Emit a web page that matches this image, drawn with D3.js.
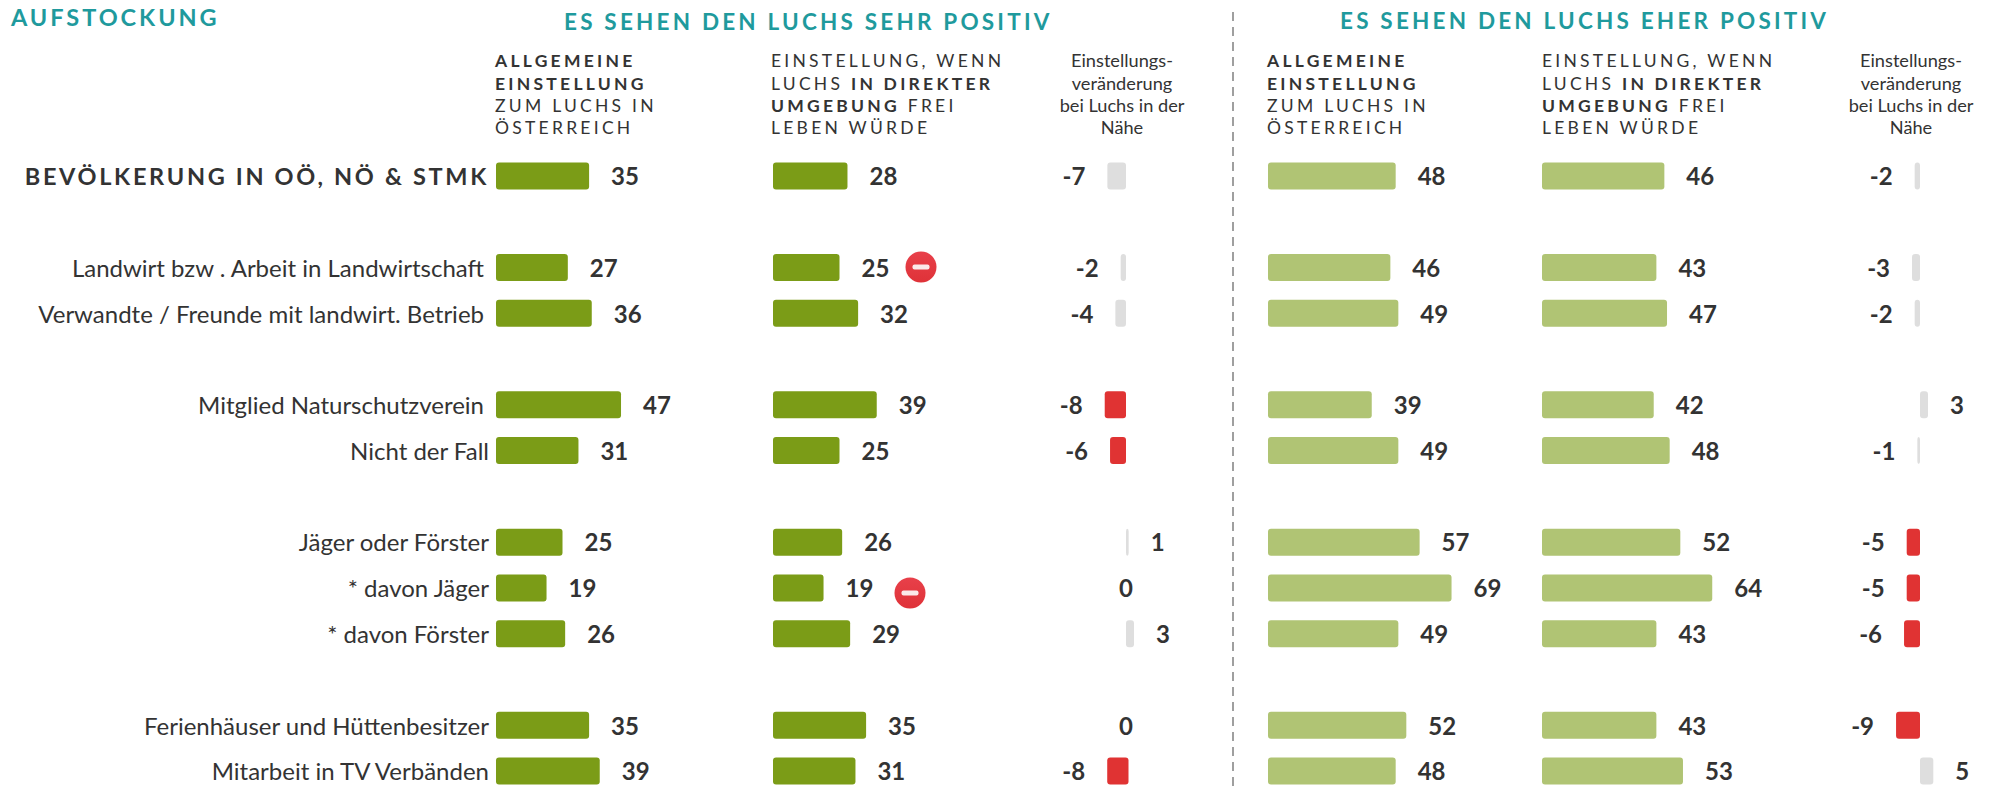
<!DOCTYPE html>
<html><head><meta charset="utf-8">
<script src="https://cdn.jsdelivr.net/npm/d3@7"></script>
<style>
html,body{margin:0;padding:0;background:#fff}
svg{display:block}
text{font-family:Lato,sans-serif;fill:#333}
</style></head><body><svg id="c" width="1995" height="786"></svg>
<script>
const categories=["BEVÖLKERUNG IN OÖ, NÖ & STMK","Landwirt bzw . Arbeit in Landwirtschaft","Verwandte / Freunde mit landwirt. Betrieb","Mitglied Naturschutzverein","Nicht der Fall","Jäger oder Förster","* davon Jäger","* davon Förster","Ferienhäuser und Hüttenbesitzer","Mitarbeit in TV Verbänden"];
const rowSlots=["BEVÖLKERUNG IN OÖ, NÖ & STMK","_a","Landwirt bzw . Arbeit in Landwirtschaft","Verwandte / Freunde mit landwirt. Betrieb","_b","Mitglied Naturschutzverein","Nicht der Fall","_c","Jäger oder Förster","* davon Jäger","* davon Förster","_d","Ferienhäuser und Hüttenbesitzer","Mitarbeit in TV Verbänden"];
const sehrAllgemein=[35,27,36,47,31,25,19,26,35,39];
const sehrUmgebung=[28,25,32,39,25,26,19,29,35,31];
const sehrDelta=[-7,-2,-4,-8,-6,1,0,3,0,-8];
const sehrDeltaMarked=[false,false,false,true,true,false,false,false,false,true];
const sehrWarn=["Landwirt bzw . Arbeit in Landwirtschaft","* davon Jäger"];
const eherAllgemein=[48,46,49,39,49,57,69,49,52,48];
const eherUmgebung=[46,43,47,42,48,52,64,43,43,53];
const eherDelta=[-2,-3,-2,3,-1,-5,-5,-6,-9,5];
const eherDeltaMarked=[false,false,false,false,false,true,true,true,true,false];

const svg=d3.select("#c");
const y=d3.scalePoint().domain(rowSlots).range([176,771]);
const barH=27, unit=2.66, base=9.3;
const x=x0=>d3.scaleLinear().domain([0,100]).range([x0,x0+100*unit]);
const DARK="#7b9c17",LIGHT="#b0c474",GREY="#dedede",RED="#e03333",TEAL="#1f9a9d";

// titles
const title=(t,px,py,s,ls)=>svg.append("text").attr("x",px).attr("y",py).text(t)
  .style("fill",TEAL).style("font-weight",700).style("font-size",s+"px").style("letter-spacing",ls+"px");
title("AUFSTOCKUNG",11,25.5,23.5,2.95);
title("ES SEHEN DEN LUCHS SEHR POSITIV",564,30,22.5,3.2);
title("ES SEHEN DEN LUCHS EHER POSITIV",1340,29,22.5,3.2);

// divider
svg.append("line").attr("x1",1233).attr("x2",1233).attr("y1",12).attr("y2",786)
  .attr("stroke","#777").attr("stroke-width",1.4).attr("stroke-dasharray","9 6");

// column headers
const headA=[[["ALLGEMEINE",1]],[["EINSTELLUNG",1]],[["ZUM LUCHS IN",0]],[["ÖSTERREICH",0]]];
const headB=[[["EINSTELLUNG, WENN",0]],[["LUCHS ",0],["IN DIREKTER",1]],[["UMGEBUNG",1],[" FREI",0]],[["LEBEN WÜRDE",0]]];
const headC=["Einstellungs-","veränderung","bei Luchs in der","Nähe"];
const headBase=[67,89.5,111.5,134];
function head(lines,px){
  lines.forEach((runs,i)=>{
    const t=svg.append("text").attr("x",px).attr("y",headBase[i]).attr("xml:space","preserve")
      .style("font-size","17.5px").style("letter-spacing","3.25px");
    runs.forEach(r=>t.append("tspan").text(r[0]).style("font-weight",r[1]?700:400).style("white-space","pre"));
  });
}
function headCenter(cx){
  headC.forEach((s,i)=>svg.append("text").attr("x",cx).attr("y",headBase[i]).attr("text-anchor","middle")
    .style("font-size","18.2px").text(s));
}
head(headA,495);head(headB,771);headCenter(1122);
head(headA,1267);head(headB,1542);headCenter(1911);

// category labels
svg.append("g").selectAll("text").data(categories).join("text")
  .attr("x",(d,i)=>(i>=1&&i<=3)?484:489).attr("y",d=>y(d)+base).attr("text-anchor","end")
  .text(d=>d)
  .style("font-size",(d,i)=>i==0?"23.5px":"24px")
  .style("font-weight",(d,i)=>i==0?700:400)
  .style("letter-spacing",(d,i)=>i==0?"2.68px":"0");

function bars(vals,x0,color){
  const sx=x(x0);
  const g=svg.append("g");
  g.selectAll("rect").data(vals).join("rect")
    .attr("x",sx(0)).attr("y",(d,i)=>y(categories[i])-barH/2)
    .attr("width",d=>sx(d)-sx(0)).attr("height",barH).attr("rx",3).attr("fill",color);
  g.selectAll("text").data(vals).join("text")
    .attr("x",d=>sx(d)+22).attr("y",(d,i)=>y(categories[i])+base).text(d=>d)
    .style("font-weight",700).style("font-size","24px");
}
function delta(vals,marked,x0,lastShift){
  const sx=x(x0);
  const g=svg.append("g");
  const off=i=>i==vals.length-1?lastShift:0;
  g.selectAll("rect").data(vals).join("rect")
    .attr("x",(d,i)=>Math.min(sx(0),sx(d))+off(i)).attr("y",(d,i)=>y(categories[i])-barH/2)
    .attr("width",d=>Math.abs(sx(d)-sx(0))).attr("height",barH).attr("rx",3)
    .attr("fill",(d,i)=>marked[i]?RED:GREY);
  g.selectAll("text").data(vals).join("text")
    .attr("x",(d,i)=>(d<0?sx(d)-22:d>0?sx(d)+22:sx(0))+off(i))
    .attr("text-anchor",d=>d<0?"end":d>0?"start":"middle")
    .attr("y",(d,i)=>y(categories[i])+base).text(d=>d)
    .style("font-weight",700).style("font-size","24px");
}
bars(sehrAllgemein,496,DARK);
bars(sehrUmgebung,773,DARK);
delta(sehrDelta,sehrDeltaMarked,1126,2.5);
bars(eherAllgemein,1268,LIGHT);
bars(eherUmgebung,1542,LIGHT);
delta(eherDelta,eherDeltaMarked,1920,0);

// warning icons
const defs=svg.append("defs");
const grad=defs.append("linearGradient").attr("id","w").attr("x1",0).attr("x2",0).attr("y1",0).attr("y2",1);
grad.append("stop").attr("offset",0).attr("stop-color","#e8404a");
grad.append("stop").attr("offset",1).attr("stop-color","#df3238");
const icons=svg.append("g").selectAll("g").data(sehrWarn).join("g")
  .attr("transform",(d,i)=>`translate(${i==0?921:910},${y(d)+(i==0?-0.5:5)})`);
icons.append("circle").attr("r",15.5).attr("fill","url(#w)");
icons.append("rect").attr("x",-8.5).attr("y",-2.5).attr("width",17).attr("height",5).attr("rx",2).attr("fill","#fbe9e9");
</script></body></html>
